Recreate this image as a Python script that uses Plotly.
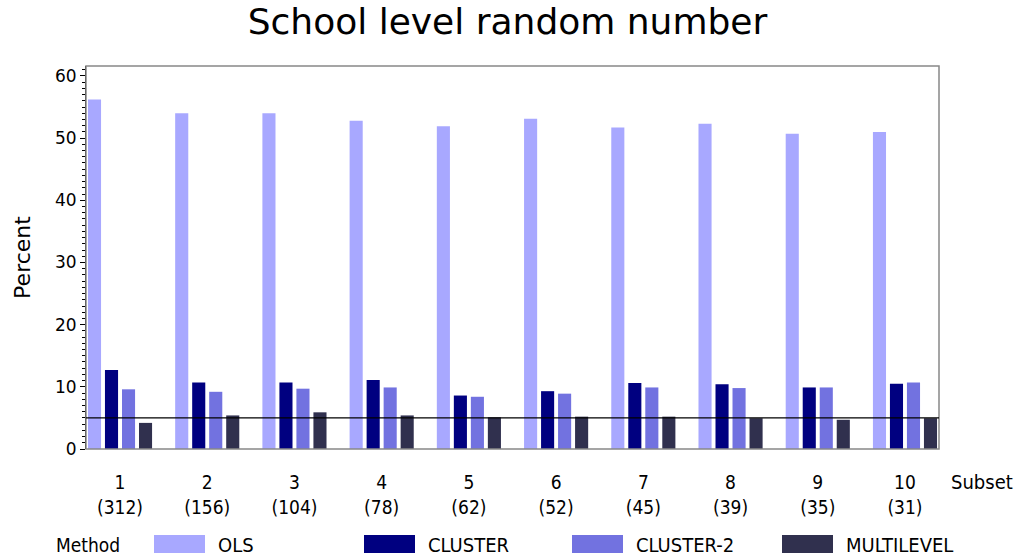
import plotly.graph_objects as go

# ---- data ----
subsets = ["1", "2", "3", "4", "5", "6", "7", "8", "9", "10"]
n_schools = ["312", "156", "104", "78", "62", "52", "45", "39", "35", "31"]
methods = ["OLS", "CLUSTER", "CLUSTER-2", "MULTILEVEL"]
ols = [56.2, 54.0, 54.0, 52.8, 51.9, 53.1, 51.7, 52.3, 50.7, 51.0]
cluster = [12.7, 10.7, 10.7, 11.1, 8.6, 9.3, 10.6, 10.4, 9.9, 10.5]
cluster2 = [9.6, 9.2, 9.7, 9.9, 8.4, 8.9, 9.9, 9.8, 9.9, 10.7]
multilevel = [4.2, 5.4, 5.9, 5.4, 5.1, 5.2, 5.2, 4.95, 4.7, 4.95]
ref_level = 5
colors = ["#A8A8FF", "#000080", "#7272E0", "#30304E"]

series = [ols, cluster, cluster2, multilevel]
cats = [f"{s}<br>({n})" for s, n in zip(subsets, n_schools)]

FONT = "Verdana, DejaVu Sans, sans-serif"
COND = "DejaVu Sans Condensed, DejaVu Sans, sans-serif"

fig = go.Figure()
for name, vals, col in zip(methods, series, colors):
    fig.add_trace(go.Bar(x=cats, y=vals, name=name, marker=dict(color=col, line=dict(width=0)),
                         showlegend=False))

W, H = 1015, 560
ml, mr, mt, mb = 86, 76, 66, 111
pw, ph = W - ml - mr, H - mt - mb

def px(x):
    return (x - ml) / pw

def py(y):
    return (H - mb - y) / ph

shapes = [
    dict(type="rect", xref="paper", yref="paper", x0=0, x1=1, y0=0, y1=1,
         line=dict(color="#888888", width=1.5), layer="above"),
    dict(type="line", xref="paper", yref="y", x0=0, x1=1, y0=ref_level, y1=ref_level,
         line=dict(color="black", width=1.2), layer="above"),
]
annotations = [
    dict(text="Subset", xref="paper", yref="paper", x=px(949), y=py(482), xanchor="left",
         yanchor="middle", showarrow=False, font=dict(family=COND, size=20, color="black")),
    dict(text="Method", xref="paper", yref="paper", x=px(54), y=py(545), xanchor="left",
         yanchor="middle", showarrow=False, font=dict(family=COND, size=19, color="black")),
]
sw_x = [154, 364, 572, 782]
for i, (name, col) in enumerate(zip(methods, colors)):
    x0 = sw_x[i]
    shapes.append(dict(type="rect", xref="paper", yref="paper", x0=px(x0), x1=px(x0 + 51),
                       y0=py(553), y1=py(535), fillcolor=col, line=dict(width=0)))
    annotations.append(dict(text=name, xref="paper", yref="paper", x=px(x0 + 62), y=py(545),
                            xanchor="left", yanchor="middle", showarrow=False,
                            font=dict(family=COND, size=20, color="black")))

fig.update_layout(
    width=W, height=H,
    margin=dict(l=ml, r=mr, t=mt, b=mb, pad=0),
    paper_bgcolor="white", plot_bgcolor="white",
    barmode="group", bargap=0.22, bargroupgap=0.23,
    title=dict(text="School level random number", x=0.5, xanchor="center", y=0.961, yanchor="middle",
               font=dict(family=FONT, size=36, color="black")),
    xaxis=dict(type="category", range=[-0.39, 9.39], showgrid=False, showline=False,
               ticks="", tickfont=dict(family=COND, size=19, color="black"), ticklabelstandoff=20),
    yaxis=dict(range=[0, 61.6], showgrid=False, zeroline=False, showline=True, linecolor="black",
               linewidth=1, ticks="outside", ticklen=5, tickwidth=1, tickcolor="black",
               tickvals=[0, 10, 20, 30, 40, 50, 60],
               minor=dict(dtick=1, ticks="outside", ticklen=3, tickcolor="black"),
               tickfont=dict(family=FONT, size=17, color="black"),
               title=dict(text="Percent", font=dict(family=FONT, size=22, color="black"), standoff=18)),
    shapes=shapes, annotations=annotations,
)

fig.write_html("out.html")
